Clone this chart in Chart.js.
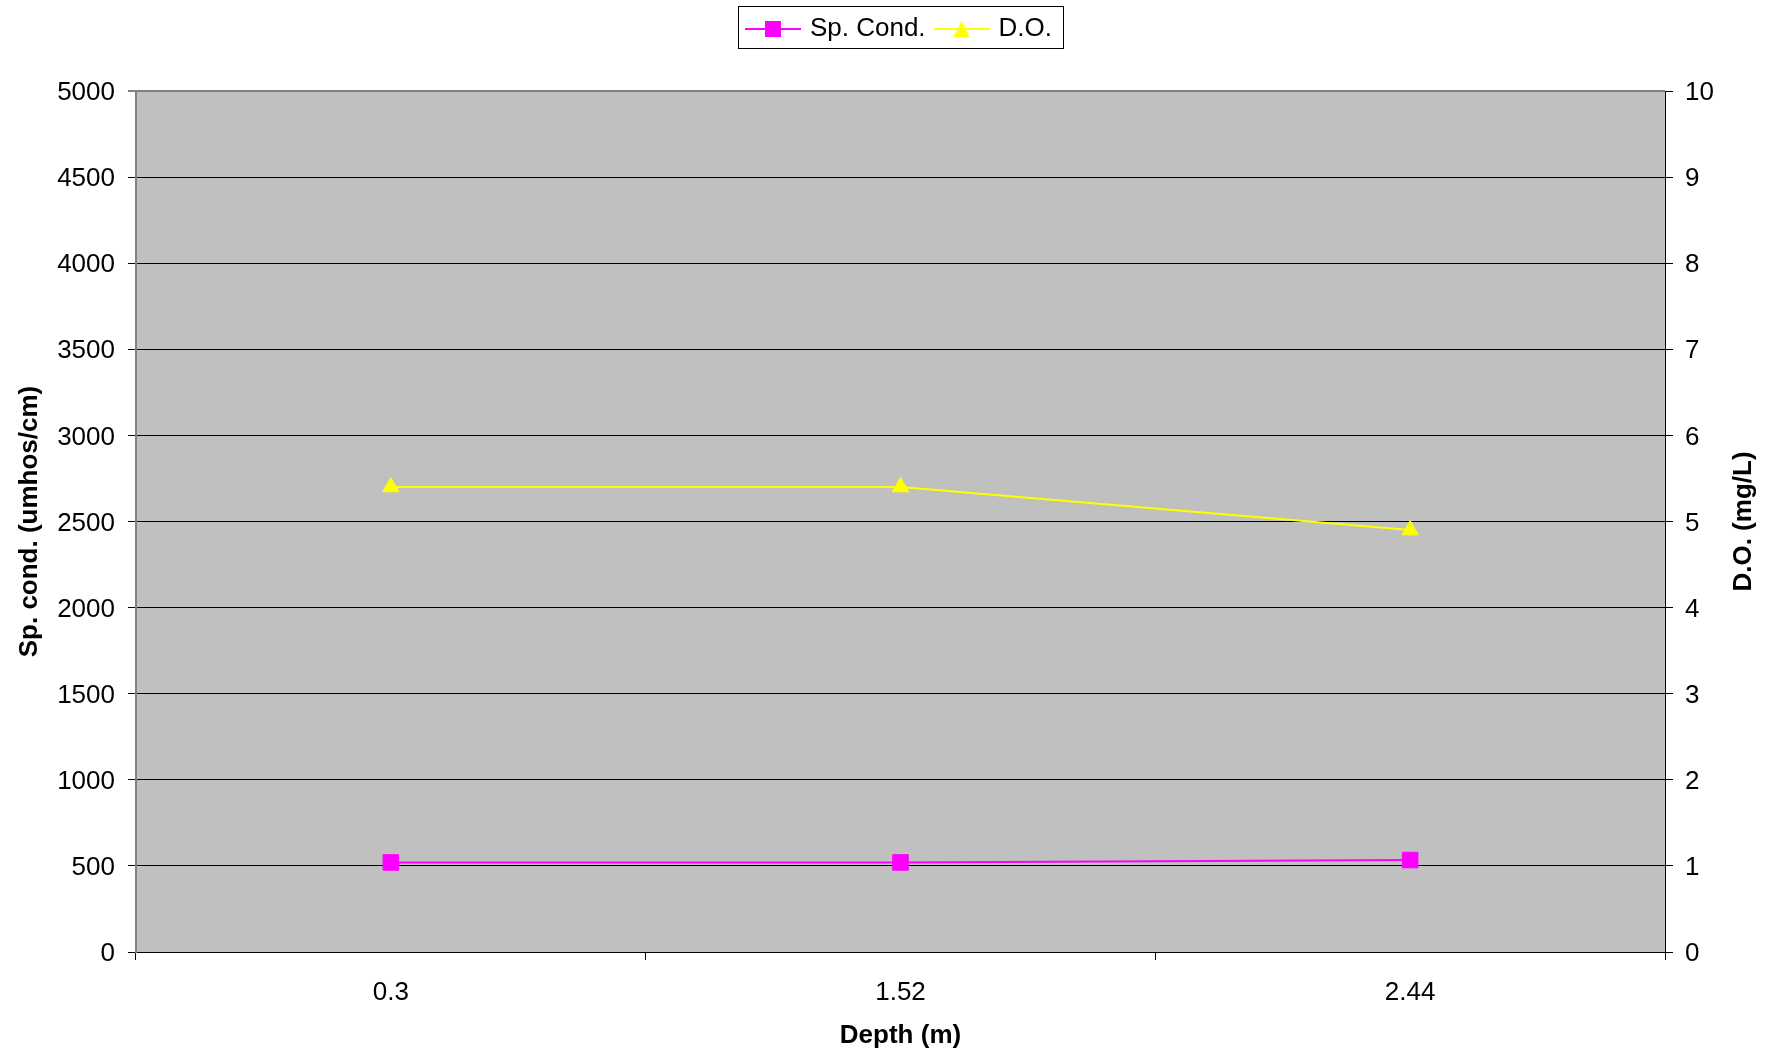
<!DOCTYPE html>
<html>
<head>
<meta charset="utf-8">
<script src="https://cdn.jsdelivr.net/npm/chart.js@4.4.1/dist/chart.umd.min.js"></script>
<style>
    html, body { margin: 0; padding: 0; background: #ffffff; }
    #wrap { width: 1777px; height: 1055px; }
</style>
</head>
<body>
<div id="wrap"><canvas id="depth-chart"></canvas></div>
<script>
const depths = ['0.3', '1.52', '2.44'];
const spCond = [520, 520, 534];
const dissolvedOxygen = [5.4, 5.4, 4.9];
const condMax = 5000;
const condStep = 500;
const doMax = 10;
const doStep = 1;

const fontFamily = "'Liberation Sans', Arial, Helvetica, sans-serif";
Chart.defaults.font.family = fontFamily;
Chart.defaults.font.size = 26;
Chart.defaults.color = '#000000';

// legend swatch: a short line with the series marker in the middle
function legendSwatch(color, shape) {
    const c = document.createElement('canvas');
    c.width = 56;
    c.height = 18;
    const ctx = c.getContext('2d');
    ctx.strokeStyle = color;
    ctx.lineWidth = 2;
    ctx.beginPath();
    ctx.moveTo(0, 9);
    ctx.lineTo(56, 9);
    ctx.stroke();
    ctx.fillStyle = color;
    ctx.beginPath();
    if (shape === 'rect') {
        ctx.rect(20, 1, 16, 16);
    } else {
        ctx.moveTo(28, 1);
        ctx.lineTo(36, 17);
        ctx.lineTo(20, 17);
        ctx.closePath();
    }
    ctx.fill();
    return c;
}

const swatches = [legendSwatch('#ff00ff', 'rect'), legendSwatch('#ffff00', 'triangle')];

const plotBackground = {
    id: 'plotBackground',
    beforeDraw(chart) {
        const { ctx, chartArea } = chart;
        ctx.save();
        ctx.fillStyle = '#c0c0c0';
        ctx.fillRect(chartArea.left, chartArea.top, chartArea.right - chartArea.left, chartArea.bottom - chartArea.top);
        ctx.restore();
    },
};

// keep the legend at the very top, away from the plot area
const legendToTop = {
    id: 'legendToTop',
    afterLayout(chart) {
        const lg = chart.legend;
        if (!lg) return;
        const shift = lg.top - 4;
        lg.top -= shift;
        lg.bottom -= shift;
    },
};

const legendFrame = {
    id: 'legendFrame',
    afterDraw(chart) {
        const boxes = chart.legend && chart.legend.legendHitBoxes;
        if (!boxes || !boxes.length) return;
        const first = boxes[0];
        const last = boxes[boxes.length - 1];
        const { ctx } = chart;
        ctx.save();
        ctx.strokeStyle = '#000000';
        ctx.lineWidth = 1;
        const left = Math.round(first.left - 11) + 0.5;
        const right = Math.round(last.left + last.width + 11) + 0.5;
        const top = Math.round(first.top - 10) + 0.5;
        const bottom = Math.round(first.top + first.height + 6) + 0.5;
        ctx.strokeRect(left, top, right - left, bottom - top);
        ctx.restore();
    },
};

// both vertical axis titles read bottom-to-top
const axisTitles = {
    id: 'axisTitles',
    afterDraw(chart) {
        const { ctx, chartArea } = chart;
        const midY = (chartArea.top + chartArea.bottom) / 2;
        ctx.save();
        ctx.font = 'bold 26px ' + fontFamily;
        ctx.fillStyle = '#000000';
        ctx.textAlign = 'center';
        ctx.textBaseline = 'middle';
        [[30, 'Sp. cond. (umhos/cm)'], [1744, 'D.O. (mg/L)']].forEach(([x, text]) => {
            ctx.save();
            ctx.translate(x, midY);
            ctx.rotate(-Math.PI / 2);
            ctx.fillText(text, 0, 0);
            ctx.restore();
        });
        ctx.restore();
    },
};

new Chart(document.getElementById('depth-chart'), {
    type: 'line',
    data: {
        labels: depths,
        datasets: [
            {
                label: 'Sp. Cond.',
                data: spCond,
                yAxisID: 'y',
                borderColor: '#ff00ff',
                backgroundColor: '#ff00ff',
                borderWidth: 2,
                pointStyle: 'rect',
                pointRadius: 11,
                pointBorderWidth: 1,
                pointBorderColor: '#ff00ff',
                pointBackgroundColor: '#ff00ff',
            },
            {
                label: 'D.O.',
                data: dissolvedOxygen,
                yAxisID: 'y2',
                borderColor: '#ffff00',
                backgroundColor: '#ffff00',
                borderWidth: 2,
                pointStyle: 'triangle',
                pointRadius: 9.5,
                pointBorderWidth: 1,
                pointBorderColor: '#ffff00',
                pointBackgroundColor: '#ffff00',
            },
        ],
    },
    options: {
        responsive: true,
        maintainAspectRatio: false,
        animation: false,
        layout: {
            padding: { top: 2, left: 24, right: 0, bottom: 0 },
        },
        scales: {
            x: {
                type: 'category',
                offset: true,
                grid: {
                    offset: true,
                    drawOnChartArea: false,
                    drawTicks: true,
                    tickLength: 8,
                    color: '#000000',
                },
                border: { color: '#000000', width: 1 },
                ticks: { padding: 17, color: '#000000', font: { size: 26 } },
                title: {
                    display: true,
                    text: 'Depth (m)',
                    font: { size: 26, weight: 'bold' },
                    padding: { top: 0, bottom: 3.5 },
                },
                afterFit: (scale) => { scale.height = 103; },
            },
            y: {
                position: 'left',
                min: 0,
                max: condMax,
                ticks: {
                    stepSize: condStep,
                    padding: 13,
                    labelOffset: 2,
                    color: '#000000',
                    font: { size: 26 },
                    callback: (value) => String(value),
                },
                grid: {
                    color: (ctx) => (ctx.tick && ctx.tick.value === condMax ? '#808080' : '#000000'),
                    lineWidth: (ctx) => (ctx.tick && ctx.tick.value === condMax ? 2 : 1),
                    tickColor: '#000000',
                    tickWidth: 1,
                    tickLength: 8,
                },
                border: { color: '#808080', width: 2 },
                afterFit: (scale) => {
                    scale.width = 112;
                    scale.paddingTop = 91;
                },
            },
            y2: {
                position: 'right',
                min: 0,
                max: doMax,
                ticks: {
                    stepSize: doStep,
                    padding: 12,
                    labelOffset: 2,
                    color: '#000000',
                    font: { size: 26 },
                    callback: (value) => String(value),
                },
                grid: {
                    drawOnChartArea: false,
                    color: '#000000',
                    tickLength: 8,
                },
                border: { color: '#000000', width: 1 },
                afterFit: (scale) => { scale.width = 112; },
            },
        },
        plugins: {
            legend: {
                position: 'top',
                labels: {
                    usePointStyle: true,
                    pointStyleWidth: 48,
                    padding: 12,
                    color: '#000000',
                    font: { size: 26 },
                    generateLabels: (chart) => {
                        const items = Chart.defaults.plugins.legend.labels.generateLabels(chart);
                        items.forEach((item, i) => { item.pointStyle = swatches[i]; });
                        return items;
                    },
                },
            },
            tooltip: { enabled: false },
        },
    },
    plugins: [plotBackground, legendToTop, legendFrame, axisTitles],
});
</script>
</body>
</html>
